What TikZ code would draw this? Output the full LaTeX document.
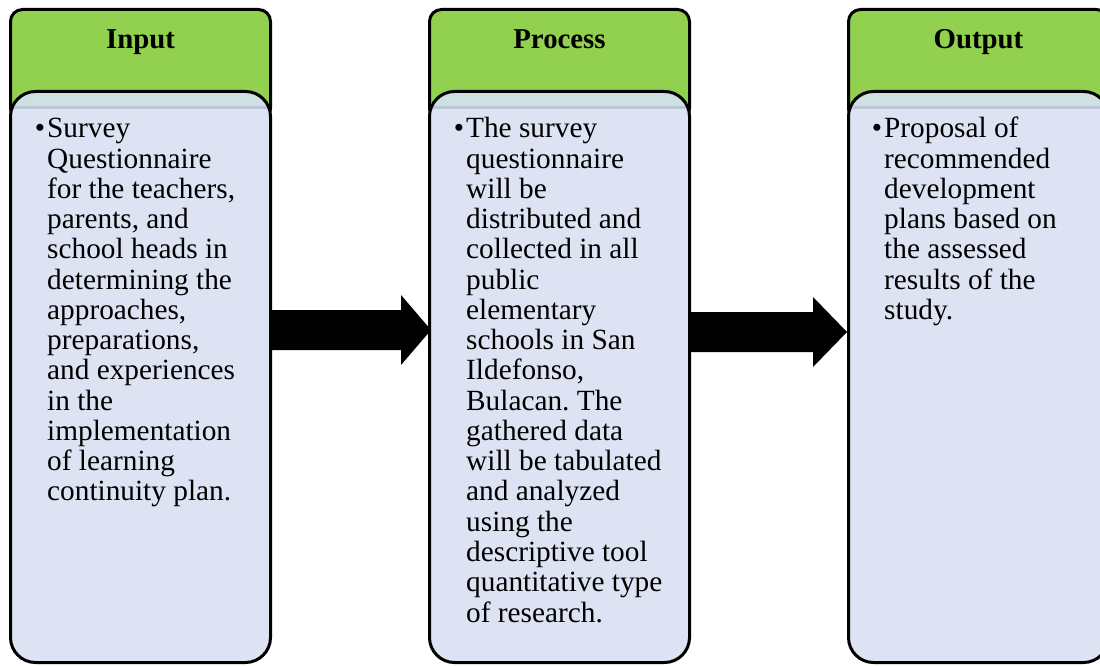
\documentclass[tikz,border=0pt]{standalone}
\usepackage{fontspec}
\setmainfont{Liberation Serif}
\usetikzlibrary{calc}
\frenchspacing
\definecolor{hdr}{HTML}{92D050}
\definecolor{bdy}{HTML}{DDE3F3}
\definecolor{band}{HTML}{CFE0E0}
\definecolor{bandline}{HTML}{BCC6D9}
\tikzset{
  hdrbox/.style={draw=black, line width=3pt, fill=hdr, rounded corners=12pt,
    minimum width=260pt, minimum height=111pt, inner sep=0pt, outer sep=0pt},
  bodybox/.style={fill=bdy, rounded corners=25pt,
    minimum width=260pt, minimum height=571pt, inner sep=0pt, outer sep=0pt},
  bodyborder/.style={draw=black, line width=3pt, rounded corners=25pt},
  titletext/.style={font=\fontsize{28.8}{30}\selectfont\bfseries, anchor=base, inner sep=0pt},
  bodytext/.style={font=\fontsize{29.3}{30.25}\selectfont, anchor=base west, inner sep=0pt},
  bigarrow/.style={fill=black},
}
\newcommand{\bul}{\leavevmode\llap{\textbullet\hspace{2pt}}}
\begin{document}
\begin{tikzpicture}[x=1pt,y=-1pt]
\useasboundingbox (0,0) rectangle (1100,666);
\clip (0,0) rectangle (1100,666);

\coordinate (a1s) at (268,330);
\coordinate (a1e) at (431,330);
\coordinate (a2s) at (687,332);
\coordinate (a2e) at (847,332);

% block arrows between the bodies (drawn first, boxes on top)
\fill[bigarrow] ($(a1s)+(0,-20)$) -- ($(a1e)+(-30,-20)$) -- ($(a1e)+(-30,-35)$)
  -- (a1e) -- ($(a1e)+(-30,35)$) -- ($(a1e)+(-30,20)$) -- ($(a1s)+(0,20)$) -- cycle;
\fill[bigarrow] ($(a2s)+(0,-20)$) -- ($(a2e)+(-34,-20)$) -- ($(a2e)+(-34,-35)$)
  -- (a2e) -- ($(a2e)+(-34,35)$) -- ($(a2e)+(-34,20)$) -- ($(a2s)+(0,20)$) -- cycle;

% headers
\node[hdrbox] (h1) at (140.5,65) {};
\node[hdrbox] (h2) at (559.5,65) {};
\node[hdrbox] (h3) at (978.5,65) {};
\node[titletext] (l1) at (140.5,49) {Input};
\node[titletext] (l2) at (559.5,49) {Process};
\node[titletext] (l3) at (978.5,49) {Output};

% bodies
\foreach \n/\cx in {b1/140.5, b2/559.5, b3/978.5}{
  \node[bodybox] (\n) at (\cx,377) {};
  \begin{scope}
    \clip[rounded corners=25pt] (\n.north west) rectangle (\n.south east);
    \fill[band] ($(\n.north west)$) rectangle ($(\n.north east)+(0,15)$);
    \fill[bandline] ($(\n.north west)+(0,15)$) rectangle ($(\n.north east)+(0,17.5)$);
  \end{scope}
  \draw[bodyborder] (\n.north west) rectangle (\n.south east);
}

% texts
\node[bodytext] (t1) at (47,138) {\parbox[t]{400pt}{\fontsize{29.3}{30.25}\selectfont
\bul Survey\\
Questionnaire\\
for the teachers,\\
parents, and\\
school heads in\\
determining the\\
approaches,\\
preparations,\\
and experiences\\
in the\\
implementation\\
of learning\\
continuity plan.}};

\node[bodytext] (t2) at (466,138) {\parbox[t]{400pt}{\fontsize{29.3}{30.25}\selectfont
\bul The survey\\
questionnaire\\
will be\\
distributed and\\
collected in all\\
public\\
elementary\\
schools in San\\
Ildefonso,\\
Bulacan. The\\
gathered data\\
will be tabulated\\
and analyzed\\
using the\\
descriptive tool\\
quantitative type\\
of research.}};

\node[bodytext] (t3) at (884,138) {\parbox[t]{400pt}{\fontsize{29.3}{30.25}\selectfont
\bul Proposal of\\
recommended\\
development\\
plans based on\\
the assessed\\
results of the\\
study.}};
\end{tikzpicture}
\end{document}
